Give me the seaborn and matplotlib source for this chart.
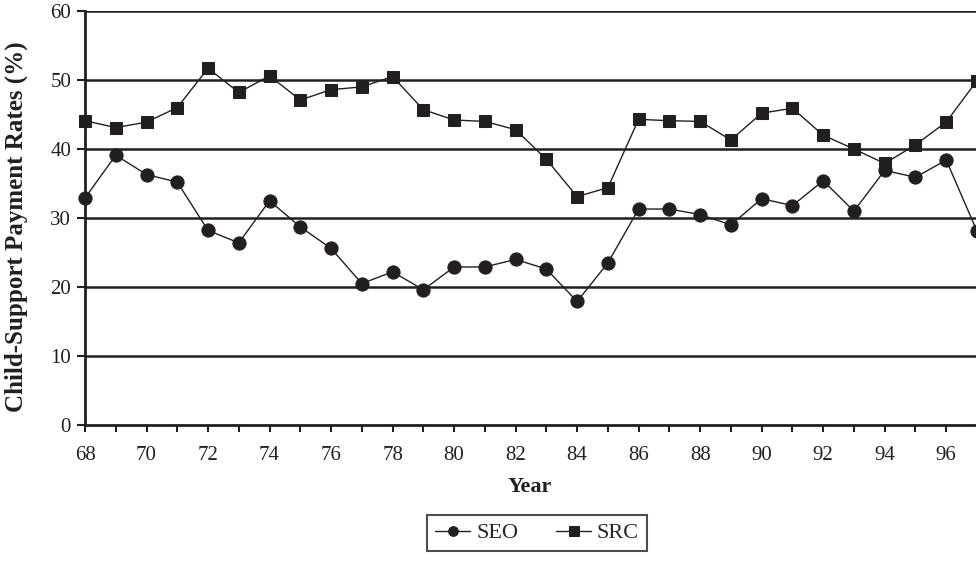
import numpy as np
import pandas as pd
import matplotlib
matplotlib.use("Agg")
import matplotlib.pyplot as plt
import seaborn as sns

years = list(range(68, 98))
seo = [32.9, 39.1, 36.3, 35.2, 28.2, 26.4, 32.5, 28.7, 25.6, 20.5,
       22.2, 19.6, 22.9, 22.9, 24.0, 22.6, 17.9, 23.5, 31.3, 31.3,
       30.5, 29.0, 32.8, 31.8, 35.4, 31.0, 36.9, 35.9, 38.4, 28.1]
src = [44.1, 43.1, 43.9, 46.0, 51.7, 48.2, 50.6, 47.1, 48.6, 49.0,
       50.5, 45.7, 44.2, 44.0, 42.8, 38.5, 33.1, 34.4, 44.3, 44.1,
       44.0, 41.3, 45.2, 45.9, 42.0, 40.0, 37.9, 40.6, 43.9, 49.9]
series_names = ["SEO", "SRC"]
xtick_labels = [str(y) for y in range(68, 97, 2)]
yticks = [0, 10, 20, 30, 40, 50, 60]

sns.set_theme(style="white")
plt.rcParams["font.family"] = ["Liberation Serif", "DejaVu Serif"]

df = pd.DataFrame({
    "Year": years * 2,
    "Rate": seo + src,
    "Series": [series_names[0]] * len(years) + [series_names[1]] * len(years),
})

ink = "#231f20"
W, H = 976, 566
fig = plt.figure(figsize=(W / 100, H / 100), dpi=100)
ax = fig.add_axes([85 / W, (H - 425) / H, 1 - 85 / W + 0.001, (425 - 11) / H])

for y in yticks[1:]:
    ax.axhline(y, color=ink, lw=1.8, zorder=1)

sns.lineplot(data=df[df.Series == "SEO"], x="Year", y="Rate", ax=ax,
             color=ink, lw=1.0, marker="o", markersize=9.5,
             markeredgecolor=ink, markerfacecolor=ink, label="SEO",
             clip_on=False, zorder=3)
sns.lineplot(data=df[df.Series == "SRC"], x="Year", y="Rate", ax=ax,
             color=ink, lw=1.0, marker="s", markersize=8.5,
             markeredgecolor=ink, markerfacecolor=ink, label="SRC",
             clip_on=False, zorder=3)

ax.set_xlim(68, 97)
ax.set_ylim(0, 60)
ax.set_yticks(yticks)
ax.set_yticklabels([str(v) for v in yticks], fontsize=15, color=ink)
ax.set_xticks(list(range(68, 97, 2)))
ax.set_xticklabels(xtick_labels, fontsize=15, color=ink)
ax.set_xticks(list(range(68, 98)), minor=True)
ax.tick_params(axis="x", which="both", direction="out", length=5, width=1.5,
               color=ink, bottom=True, pad=10)
ax.tick_params(axis="y", which="major", direction="out", length=6, width=1.5,
               color=ink, left=True, pad=4)

for s in ["top", "right"]:
    ax.spines[s].set_visible(False)
ax.spines["left"].set_color(ink)
ax.spines["left"].set_linewidth(2.0)
ax.spines["bottom"].set_color(ink)
ax.spines["bottom"].set_linewidth(2.0)

ax.set_xlabel("Year", fontsize=16, fontweight="bold", color=ink)
ax.xaxis.set_label_coords(530 / W, 1 - 487 / H, transform=fig.transFigure)
ax.set_ylabel("Child-Support Payment Rates (%)", fontsize=18,
              fontweight="bold", color=ink)
ax.yaxis.set_label_coords(16 / W, 1 - 227 / H, transform=fig.transFigure)
ax.yaxis.label.set_va("center")
ax.xaxis.label.set_va("center")

leg = ax.legend(loc="center", bbox_to_anchor=(537 / W, 1 - 533 / H),
                bbox_transform=fig.transFigure, ncol=2, frameon=True,
                fancybox=False, edgecolor=ink, fontsize=16,
                handlelength=1.6, handletextpad=0.25, columnspacing=1.7,
                borderpad=0.35)
leg.get_frame().set_linewidth(1.5)
for h in leg.legend_handles:
    h.set_markersize(7)

fig.savefig("out.png", dpi=100)
